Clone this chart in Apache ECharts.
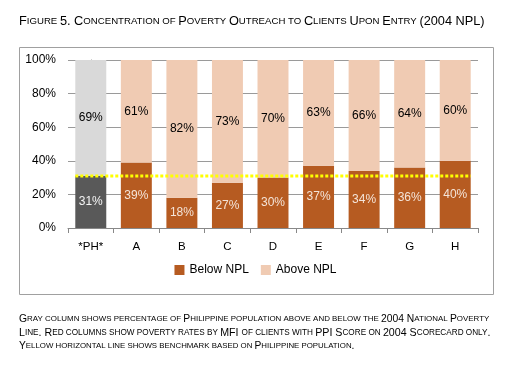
<!DOCTYPE html>
<html><head><meta charset="utf-8">
<script src="https://cdn.jsdelivr.net/npm/echarts@6/dist/echarts.min.js"></script>
<style>html,body{margin:0;padding:0;background:#fff}#c{width:511px;height:367px}</style>
</head><body><div id="c"></div>
<script>
const categories = ['*PH*','A','B','C','D','E','F','G','H'];
const belowNPL = [31,39,18,27,30,37,34,36,40];
const aboveNPL = [69,61,82,73,70,63,66,64,60];
const benchmark = 31;
const yTicks = [0,20,40,60,80,100];
const titleText = 'Figure 5. Concentration of Poverty Outreach to Clients Upon Entry (2004 NPL)';
const notes = [
  'Gray column shows percentage of Philippine population above and below the 2004 National Poverty',
  'Line. Red columns show poverty rates by MFI of clients with PPI Score on 2004 Scorecard only.',
  'Yellow horizontal line shows benchmark based on Philippine population.'
];

const FONT = 'Liberation Sans';
function smallCaps(str){
  let out = '', cur = '', curType = null;
  for (const ch of str){
    const t = (ch >= 'a' && ch <= 'z') ? 's' : (ch === ' ' && curType ? curType : 'b');
    if (curType !== null && t !== curType){ out += '{' + curType + '|' + cur + '}'; cur = ''; }
    curType = t; cur += ch.toUpperCase();
  }
  if (cur) out += '{' + curType + '|' + cur + '}';
  return out;
}

const chart = echarts.init(document.getElementById('c'), null, {renderer:'canvas'});
const darkOrange = '#B65B21', lightPeach = '#F0CBB3';
const belowData = belowNPL.map((v,i)=> i===0 ? {value:v, itemStyle:{color:'#595959'}, label:{color:'#f4f4f4'}} : v);
const aboveData = aboveNPL.map((v,i)=> i===0 ? {value:v, itemStyle:{color:'#D9D9D9'}} : v);

const noteScale = [1.088, 1.124, 1.077];
const noteGraphics = notes.map((n,i)=>({
  type:'text', left:19, top:314 + i*13.5,
  style:{text: smallCaps(n), fill:'#000', font:'9.5px ' + FONT,
    rich:{b:{fontSize:9.5*noteScale[i], fontFamily:FONT, fill:'#000'}, s:{fontSize:7.3*noteScale[i], fontFamily:FONT, fill:'#000'}}}
}));

chart.setOption({
  animation:false,
  textStyle:{fontFamily:FONT},
  graphic:[
    {type:'rect', shape:{x:19.5,y:47.5,width:474,height:247}, style:{fill:'none', stroke:'#A0A0A0', lineWidth:1}, z:-10},
    {type:'text', left:19, top:15, style:{text: smallCaps(titleText), fill:'#000',
      rich:{b:{fontSize:12.75, fontFamily:FONT, fill:'#000'}, s:{fontSize:9.65, fontFamily:FONT, fill:'#000'}}}},
    ...noteGraphics
  ],
  grid:{left:68, right:33, top:60, bottom:139},
  legend:{
    data:['Below NPL','Above NPL'], bottom: 367-281, left:'center', itemWidth:10, itemHeight:10, itemGap:12,
    textStyle:{fontSize:12, color:'#000', fontFamily:FONT}, icon:'rect'
  },
  xAxis:[
    {type:'category', data:categories, axisLine:{lineStyle:{color:'#888'}},
     axisTick:{show:true, length:5, lineStyle:{color:'#888'}},
     axisLabel:{color:'#000', fontSize:11.5, margin:13}},
    {type:'value', min:-0.5, max:8.5, show:false}
  ],
  yAxis:{type:'value', min:0, max:100, interval:20,
    axisLine:{show:true, lineStyle:{color:'#888'}},
    axisTick:{show:true, length:5, lineStyle:{color:'#888'}},
    axisLabel:{color:'#000', fontSize:12, formatter:'{value}%', margin:12},
    splitLine:{lineStyle:{color:'#9a9a9a', width:1}}},
  series:[
    {name:'Below NPL', type:'bar', stack:'t', data:belowData, barCategoryGap:'32%',
     itemStyle:{color:darkOrange},
     label:{show:true, position:'inside', formatter:'{c}%', color:'#f4e4d8', fontSize:12}},
    {name:'Above NPL', type:'bar', stack:'t', data:aboveData,
     itemStyle:{color:lightPeach},
     label:{show:true, position:'inside', formatter:'{c}%', color:'#000', fontSize:12}},
    {name:'Benchmark', type:'line', xAxisIndex:1, data:[[-0.34,benchmark],[8.34,benchmark]],
     symbol:'none', lineStyle:{color:'#FFFF00', width:3, type:[3,2]}, z:5, silent:true}
  ]
});
</script></body></html>
